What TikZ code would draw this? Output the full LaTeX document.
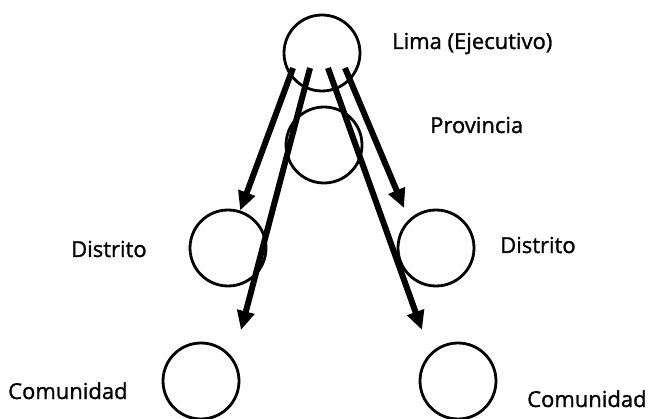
\documentclass[tikz,border=0pt]{standalone}
\usepackage{fontspec}
\setmainfont{Open Sans}
\newfontfamily\lblfont{Open Sans}[FakeBold=1.2]
\usetikzlibrary{arrows.meta,calc}

\begin{document}
\begin{tikzpicture}[x=1pt,y=-1pt,
  lvlnode/.style={circle,draw,line width=2.8pt,minimum size=76pt,inner sep=0pt},
  lvltext/.style={anchor=base west,inner sep=0pt,font=\lblfont\fontsize{22}{26}\selectfont},
  arr/.style={line width=6pt,-{Triangle[length=19pt,width=17pt]}}]
\useasboundingbox (0,0) rectangle (650,419);
\foreach \name/\x/\y in {lima/322/53,prov/324/145,distl/228/248,distr/436/248,coml/201/381,comr/458/381}
  {  \node [lvlnode] (\name) at (\x,\y) {};}
\node [lvltext] (limatxt) at (392,49) {Lima (Ejecutivo)};
\node [lvltext] (provtxt) at (430,133) {Provincia};
\node [lvltext] (distltxt) at (71,257) {Distrito};
\node [lvltext] (distrtxt) at (500,253) {Distrito};
\node [lvltext] (comltxt) at (8,399) {Comunidad};
\node [lvltext] (comrtxt) at (527,407) {Comunidad};
\coordinate (tipdr) at (404,208);
\coordinate (tipcl) at (241,330);
\coordinate (tipcr) at (422,330);
\draw [arr] ($(lima.center)+(-29,15)$) -- (distl.72);
\draw [arr] ($(lima.center)+(-12,15)$) -- (tipcl);
\draw [arr] ($(lima.center)+(6,15)$) -- (tipcr);
\draw [arr] ($(lima.center)+(23,15)$) -- (tipdr);
\end{tikzpicture}
\end{document}
